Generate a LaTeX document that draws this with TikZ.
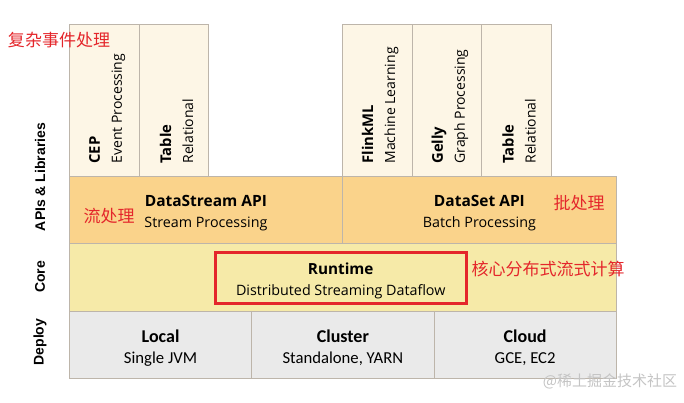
\documentclass[tikz,border=0pt]{standalone}
\usepackage{fontspec}
\setmainfont{Open Sans}
\newfontfamily\calibfont{Carlito}
\newfontfamily\sidefont{Liberation Sans}
\newfontfamily\cjk{Noto Sans CJK SC}
\usetikzlibrary{calc, positioning}
\definecolor{libcream}{HTML}{FDF6E6}
\definecolor{apiorange}{HTML}{FAD38B}
\definecolor{coreyellow}{HTML}{F6EAA8}
\definecolor{deploygray}{HTML}{EAEAEA}
\definecolor{boxline}{HTML}{BDB5AA}
\definecolor{notered}{HTML}{E4262B}
\definecolor{markgray}{HTML}{C4C4C4}
\newcommand{\boxhead}[2]{{\bfseries\fontsize{#1}{21}\selectfont #2}}

\begin{document}
\begin{tikzpicture}[x=1pt, y=-1pt,
		box/.style={draw=boxline, line width=0.8pt, inner sep=0pt, anchor=north west},
		libbox/.style={box, fill=libcream, minimum width=69.7pt, minimum height=152pt},
		libtext/.style={rotate=90, anchor=west, align=left, inner sep=0pt, font=\fontsize{14}{22}\selectfont},
		apibox/.style={box, fill=apiorange, minimum height=67pt},
		deploybox/.style={box, fill=deploygray, minimum width=182.3pt, minimum height=67pt},
		boxtext/.style={align=center, inner sep=0pt, font=\fontsize{14.3}{21}\selectfont},
		deploytext/.style={boxtext, font=\calibfont\fontsize{16.7}{21}\selectfont},
		side/.style={rotate=90, inner sep=0pt, font=\sidefont\bfseries\fontsize{14}{14}\selectfont},
		note/.style={text=notered, inner sep=0pt, font=\cjk\fontsize{17}{17}\selectfont}]
	\useasboundingbox (0,0) rectangle (684,402);
	\node[libbox] (cep) at (69,24) {};
	\node[libbox] (tableA) at (138.7,24) {};
	\node[libbox] (flinkml) at (342,24) {};
	\node[libbox] (gelly) at (411.7,24) {};
	\node[libbox] (tableB) at (481.4,24) {};
	\node[libtext] (ceptext) at ($(cep.south)+(3,-13)$) {\boxhead{14.8}{CEP}\\Event Processing};
	\node[libtext] (tableAtext) at ($(tableA.south)+(2.5,-13)$) {\boxhead{14.8}{Table}\\Relational};
	\node[libtext] (flinkmltext) at ($(flinkml.south)+(3,-13)$) {\boxhead{14.8}{FlinkML}\\Machine Learning};
	\node[libtext] (gellytext) at ($(gelly.south)+(3,-13)$) {\boxhead{14.8}{Gelly}\\Graph Processing};
	\node[libtext] (tableBtext) at ($(tableB.south)+(2.5,-13)$) {\boxhead{14.8}{Table}\\Relational};
	\node[apibox, minimum width=273pt] (datastream) at (69,176) {};
	\node[apibox, minimum width=274pt] (dataset) at (342,176) {};
	\node[boxtext] (datastreamtext) at ($(datastream.center)+(0,3.5)$) {\boxhead{15.5}{DataStream API}\\Stream Processing};
	\node[boxtext] (datasettext) at ($(dataset.center)+(0,3.5)$) {\boxhead{15.5}{DataSet API}\\Batch Processing};
	\node[box, fill=coreyellow, minimum width=547pt, minimum height=68pt] (core) at (69,243) {};
	\node[box, draw=notered, line width=2.5pt, minimum width=251pt, minimum height=51pt] (runtime) at (214,251) {};
	\node[boxtext] (runtimetext) at ($(runtime.center)+(0,3)$) {\boxhead{15.3}{Runtime}\\Distributed Streaming Dataflow};
	\node[deploybox] (local) at (69,311) {};
	\node[deploybox] (cluster) at (251.3,311) {};
	\node[deploybox] (cloud) at (433.6,311) {};
	\node[deploytext] (localtext) at ($(local.center)+(0,3)$) {\boxhead{18}{Local}\\Single JVM};
	\node[deploytext] (clustertext) at ($(cluster.center)+(0,3)$) {\boxhead{18}{Cluster}\\Standalone, YARN};
	\node[deploytext] (cloudtext) at ($(cloud.center)+(0,3)$) {\boxhead{18}{Cloud}\\GCE, EC2};
	\node[side] (apilabel) at (40,177) {APIs \& Libraries};
	\node[side] (corelabel) at (40,277) {Core};
	\node[side] (deploylabel) at (40,342) {Deploy};
	\node[note] (cepnote) at (59,40) {复杂事件处理};
	\node[note] (streamnote) at (109,216) {流处理};
	\node[note] (batchnote) at (579,203) {批处理};
	\node[note] (corenote) at (548,269) {核心分布式流式计算};
	\node[text=markgray, inner sep=0pt, font=\cjk\fontsize{15}{15}\selectfont] (mark) at (610,381) {@稀土掘金技术社区};
\end{tikzpicture}
\end{document}
